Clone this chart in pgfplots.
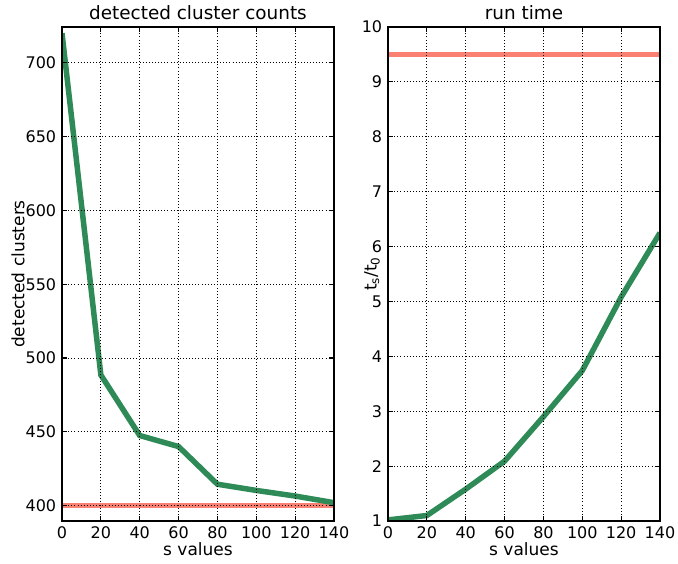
\documentclass[border=0pt]{standalone}
\usepackage{pgfplots}
\pgfplotsset{compat=1.18}
\usepackage{fontspec}
\setmainfont{DejaVu Sans}
\definecolor{sgreen}{HTML}{2E8B57}
\definecolor{salmonc}{HTML}{FA8072}
\newcommand{\ff}{\fontsize{17}{20}\selectfont}
\newcommand{\ft}{\fontsize{16}{19}\selectfont}
\newcommand{\fh}{\fontsize{18.4}{22}\selectfont}
\begin{document}
\ff
\begin{tikzpicture}
\path[use as bounding box] (0pt,0pt) rectangle (678pt,564pt);
\pgfplotsset{
 common/.style={
  scale only axis, width=272pt, height=494pt, anchor=south west,
  xmin=0, xmax=140, xtick={0,20,...,140},
  grid=major,
  major grid style={black, dash pattern=on 0.9pt off 2.2pt, line width=0.9pt},
  axis line style={black, line width=1.1pt},
  tick style={black, line width=1.1pt}, major tick length=5pt, tick align=inside,
  xtick pos=both, ytick pos=both,
  /pgf/number format/assume math mode=true,
  ticklabel style={font=\ft},
  xticklabel style={yshift=0pt},
  label style={font=\ff},
  title style={font=\fh, yshift=-5pt},
  xlabel={s values},
  xlabel style={yshift=8pt},
  axis on top,
  clip=true,
 }
}
\begin{axis}[common, at={(62pt,43pt)},
  ymin=389.6, ymax=724.2, ytick={400,450,...,700},
  title={detected cluster counts},
  ylabel={detected clusters},
  ylabel style={at={(axis description cs:-0.162,0.5)}, anchor=center, rotate=0}]
\addplot[salmonc, line width=5.5pt] coordinates {(0,400) (140,400)};
\addplot[sgreen, line width=5.5pt] coordinates {
(0,720) (20,488.5) (40,447.5) (60,440) (80,414.5) (100,410.3) (120,406.5) (140,402)};
\end{axis}
\begin{axis}[common, at={(388pt,43pt)},
  ymin=1, ymax=10, ytick={1,2,...,10},
  title={run time},
  ylabel={t\textsubscript{s}/t\textsubscript{0}},
  ylabel style={at={(axis description cs:-0.059,0.5)}, anchor=center}]
\addplot[salmonc, line width=5.5pt] coordinates {(0,9.5) (140,9.5)};
\addplot[sgreen, line width=5.5pt] coordinates {
(0,1.02) (20,1.1) (40,1.58) (60,2.09) (80,2.9) (100,3.74) (120,5.08) (140,6.25)};
\end{axis}
\end{tikzpicture}
\end{document}
